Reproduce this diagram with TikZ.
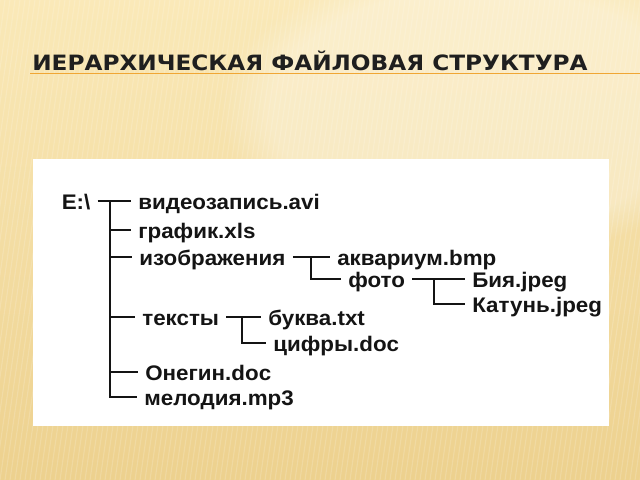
\documentclass[tikz,border=0pt]{standalone}
\usepackage{fontspec}
\usepackage{tikz}
\usetikzlibrary{fadings}
\usepackage[rgb]{xcolor}

\newfontfamily\treefont[FakeStretch=1.06]{Liberation Sans}
\newfontfamily\titlefont[FakeStretch=1.1]{DejaVu Sans}

\definecolor{sfondoalto}{RGB}{250,233,184}
\definecolor{sfondobasso}{RGB}{237,209,142}
\definecolor{arancio}{RGB}{240,166,52}
\definecolor{inchiostro}{RGB}{20,20,20}

\tikzset{
	file/.style={anchor=west, inner xsep=5pt, inner ysep=0pt, text height=12pt, text depth=0pt,
		font=\treefont\bfseries\fontsize{15}{17}\selectfont, text=inchiostro},
	ramo/.style={draw=inchiostro, line width=1.4pt}
}

\begin{document}
\begin{tikzpicture}[x=0.025cm, y=-0.025cm]
	\useasboundingbox (0,0) rectangle (640,480);
	% sfondo
	\shade[top color=sfondoalto, bottom color=sfondobasso] (0,0) rectangle (640,480);
	\fill[white, path fading=circle with fuzzy edge 20 percent, fill opacity=0.3] (480,110) ellipse (260 and 150);
	\foreach \i in {-80,-75,...,640}
		\draw[white, line width=0.8pt, opacity=0.16] (\i,480) -- (\i+70,0);
	% titolo
	\node[anchor=base west, inner sep=0pt, text=black!88, font=\titlefont\bfseries\fontsize{15}{18}\selectfont] (titolo) at (32,70) {ИЕРАРХИЧЕСКАЯ ФАЙЛОВАЯ СТРУКТУРА};
	\draw[arancio, line width=1.2pt] (30,73.5) -- (640,73.5);
	% riquadro bianco
	\fill[white] (33,159) rectangle (609,426);
	% nodi
	\node[file] (root) at (54.5,201) {E:\textbackslash};
	\node[file] (avi) at (131,201) {видеозапись.avi};
	\node[file] (xls) at (131,230) {график.xls};
	\node[file] (img) at (132,257) {изображения};
	\node[file] (aqua) at (330,257) {аквариум.bmp};
	\node[file] (foto) at (341,279) {фото};
	\node[file] (biya) at (465,279) {Бия.jpeg};
	\node[file] (katun) at (465,304) {Катунь.jpeg};
	\node[file] (testi) at (135,317) {тексты};
	\node[file] (bukva) at (261,317) {буква.txt};
	\node[file] (cifry) at (266,343) {цифры.doc};
	\node[file] (onegin) at (138,372) {Онегин.doc};
	\node[file] (melod) at (137,397) {мелодия.mp3};
	\coordinate (forkroot) at (110,201);
	\coordinate (forkimg) at (311,257);
	\coordinate (forkfoto) at (434,279);
	\coordinate (forktesti) at (242,317);
	% rami
	\draw[ramo] (root.east) -- (avi.west);
	\draw[ramo] (forkroot) |- (melod.west);
	\foreach \n in {xls,img,testi,onegin}
		\draw[ramo] (forkroot |- \n.west) -- (\n.west);
	\draw[ramo] (img.east) -- (aqua.west);
	\draw[ramo] (forkimg) |- (foto.west);
	\draw[ramo] (foto.east) -- (biya.west);
	\draw[ramo] (forkfoto) |- (katun.west);
	\draw[ramo] (testi.east) -- (bukva.west);
	\draw[ramo] (forktesti) |- (cifry.west);
\end{tikzpicture}
\end{document}
